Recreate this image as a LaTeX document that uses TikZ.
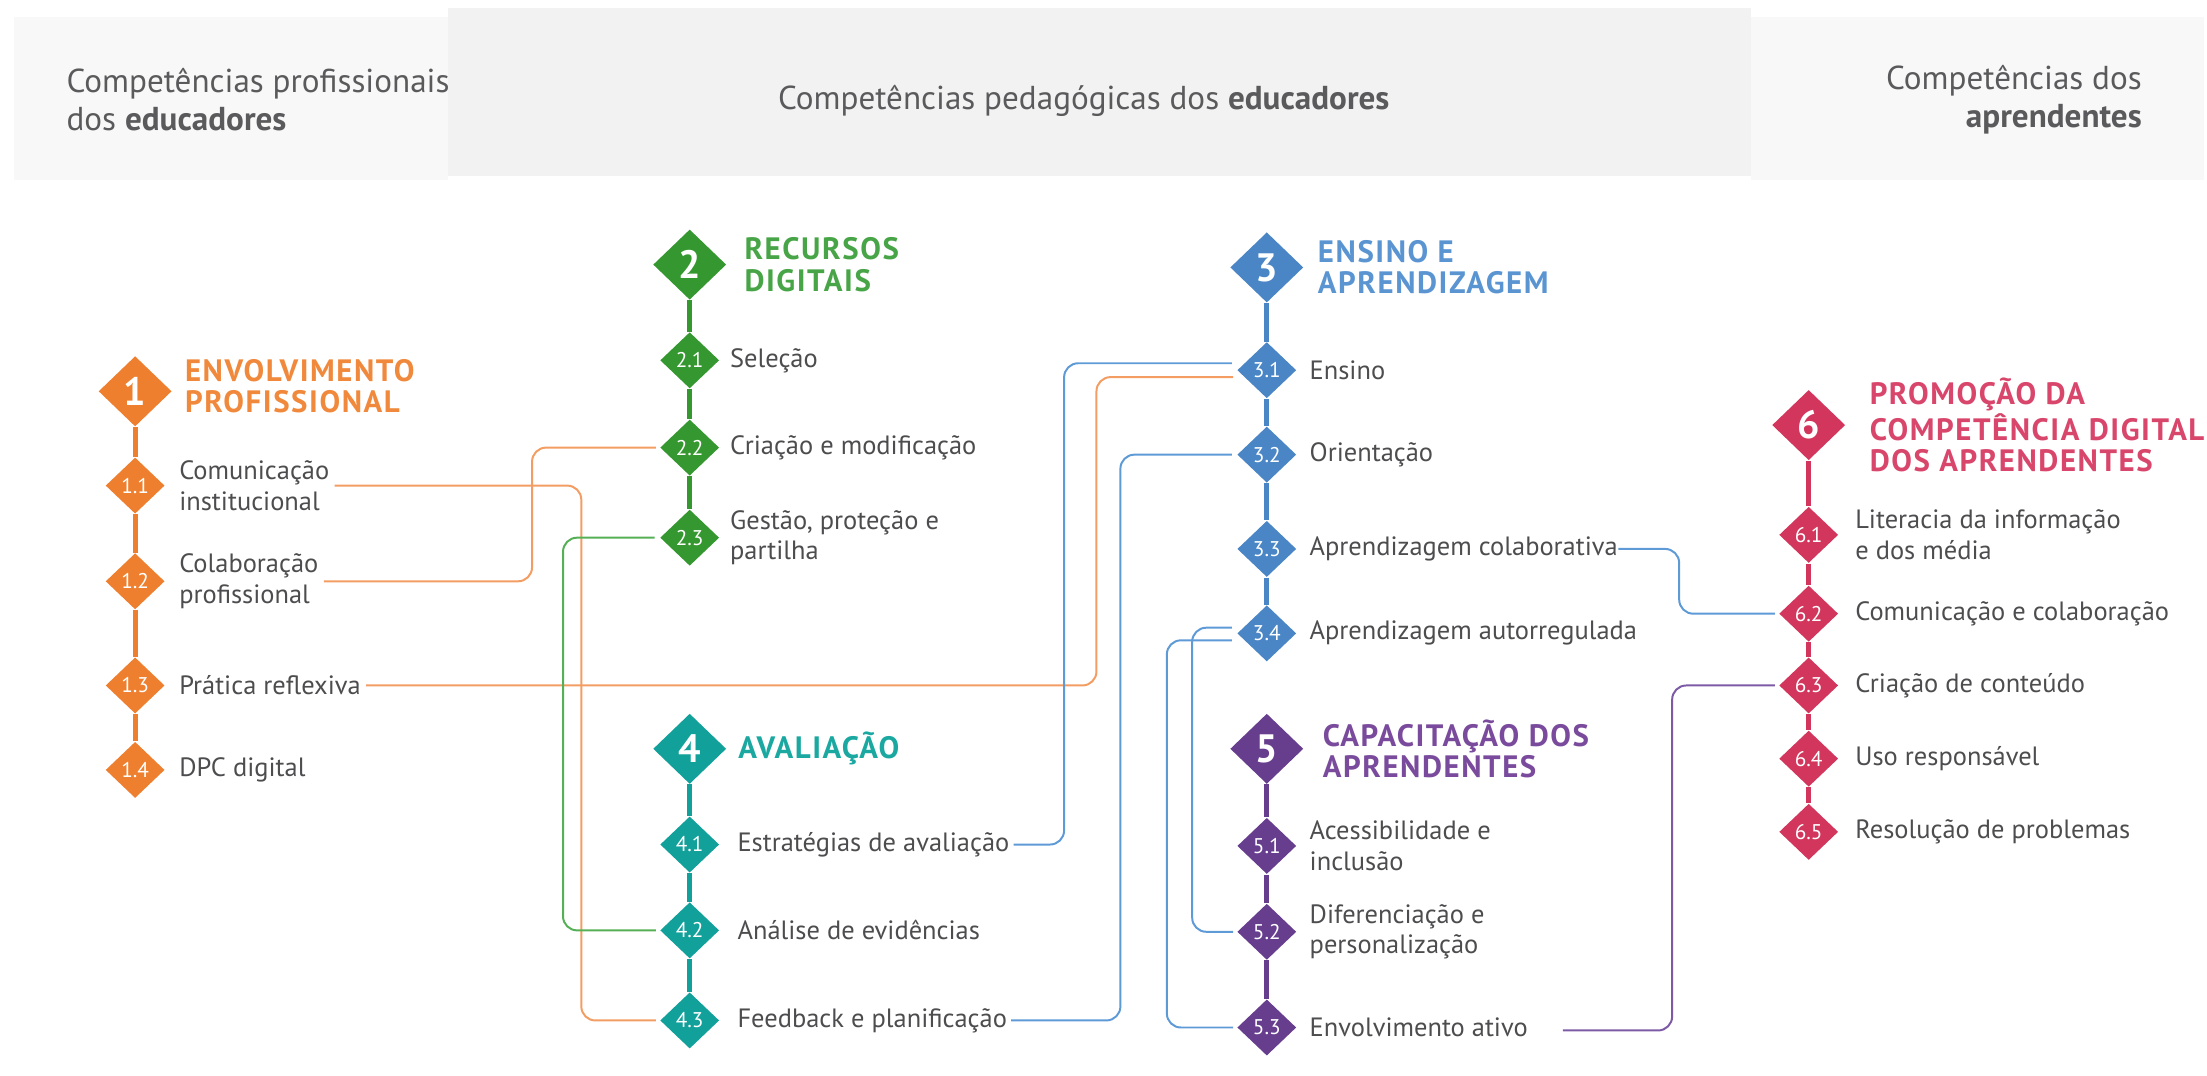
\documentclass[tikz,border=0pt]{standalone}
\usepackage{fontspec}
\setmainfont{PT Sans}
\usetikzlibrary{shapes.geometric, positioning}

\definecolor{txt}{HTML}{4D4D4F}
\definecolor{hdtxt}{HTML}{5A5A5C}
\definecolor{hdside}{HTML}{F8F8F8}
\definecolor{hdmid}{HTML}{F2F2F2}
% area colours: diamond, title, connector
\definecolor{c1}{HTML}{EE7F2F}\definecolor{c1t}{HTML}{F0893C}\definecolor{l1}{HTML}{F39D62}
\definecolor{c2}{HTML}{35972F}\definecolor{c2t}{HTML}{48A547}\definecolor{l2}{HTML}{55B055}
\definecolor{c3}{HTML}{4A86C6}\definecolor{c3t}{HTML}{5A95D2}\definecolor{l3}{HTML}{5E9AD6}
\definecolor{c4}{HTML}{12A19A}\definecolor{c4t}{HTML}{1AA8A1}
\definecolor{c5}{HTML}{673D8E}\definecolor{c5t}{HTML}{7A4B9C}\definecolor{l5}{HTML}{7D5AA6}
\definecolor{c6}{HTML}{D2365C}\definecolor{c6t}{HTML}{D9466B}

\begin{document}
\begin{tikzpicture}[x=0.02cm, y=-0.02cm,
    big/.style={diamond, fill=#1, minimum width=1.04cm, minimum height=1cm, inner sep=0pt, text=white,
        font=\bfseries\fontsize{16}{16}\selectfont},
    small/.style={diamond, fill=#1, minimum width=0.84cm, minimum height=0.8cm, inner sep=0pt, text=white,
        font=\fontsize{8.6}{8.6}\selectfont},
    item/.style={align=left, text=txt, inner sep=0pt, font=\fontsize{10.7}{12.5}\selectfont},
    title/.style={align=left, text=#1, inner sep=0pt,
        font=\bfseries\fontsize{12.5}{12.6}\selectfont\addfontfeatures{LetterSpace=5}},
    hd/.style={align=left, text=hdtxt, inner sep=0pt, font=\fontsize{13.4}{15.4}\selectfont},
    spine/.style={draw=#1, line width=2pt},
    link/.style={draw=#1, line width=0.8pt, rounded corners=0.2cm, shorten >=1.5pt, shorten <=2pt}]
\useasboundingbox (0,0) rectangle (1568,764);

% header
\fill[hdside] (10,12) rectangle (318,128);
\fill[hdmid] (318,6) rectangle (1244,125);
\fill[hdside] (1244,12) rectangle (1566,128);
\node[hd, anchor=west] (hleft) at (47,71) {Competências profissionais\\dos \textbf{educadores}};
\node[hd] (hmid) at (770,72) {Competências pedagógicas dos \textbf{educadores}};
\node[hd, anchor=east, align=right] (hright) at (1522,71) {Competências dos\\\textbf{aprendentes}};

% 1
\node[big=c1] (D1) at (96,278) {1};
\node[title=c1t, right=5pt of D1, yshift=2pt] (T1) {ENVOLVIMENTO\\PROFISSIONAL};
\node[small=c1] (d11) at (96,345) {1.1};
\node[small=c1] (d12) at (96,413) {1.2};
\node[small=c1] (d13) at (96,487) {1.3};
\node[small=c1] (d14) at (96,547) {1.4};
\node[item, right=5.5pt of d11] (t11) {Comunicação\\institucional};
\node[item, right=5.5pt of d12] (t12) {Colaboração\\profissional};
\node[item, right=5.5pt of d13] (t13) {Prática reflexiva};
\node[item, right=5.5pt of d14] (t14) {DPC digital};

% 2
\node[big=c2] (D2) at (490,188) {2};
\node[title=c2t, right=7pt of D2] (T2) {RECURSOS\\DIGITAIS};
\node[small=c2] (d21) at (490,256) {2.1};
\node[small=c2] (d22) at (490,318) {2.2};
\node[small=c2] (d23) at (490,382) {2.3};
\node[item, right=4pt of d21] (t21) {Seleção};
\node[item, right=4pt of d22] (t22) {Criação e modificação};
\node[item, right=4pt of d23] (t23) {Gestão, proteção e\\partilha};

% 3
\node[big=c3] (D3) at (900,190) {3};
\node[title=c3t, right=5.5pt of D3] (T3) {ENSINO E\\APRENDIZAGEM};
\node[small=c3] (d31) at (900,263) {3.1};
\node[small=c3] (d32) at (900,323) {3.2};
\node[small=c3] (d33) at (900,390) {3.3};
\node[small=c3] (d34) at (900,450) {3.4};
\node[item, right=5pt of d31] (t31) {Ensino};
\node[item, right=5pt of d32] (t32) {Orientação};
\node[item, right=5pt of d33] (t33) {Aprendizagem colaborativa};
\node[item, right=5pt of d34] (t34) {Aprendizagem autorregulada};

% 4
\node[big=c4] (D4) at (490,532) {4};
\node[title=c4t, right=4.5pt of D4] (T4) {AVALIAÇÃO};
\node[small=c4] (d41) at (490,600) {4.1};
\node[small=c4] (d42) at (490,661) {4.2};
\node[small=c4] (d43) at (490,725) {4.3};
\node[item, right=7pt of d41] (t41) {Estratégias de avaliação};
\node[item, right=7pt of d42] (t42) {Análise de evidências};
\node[item, right=7pt of d43] (t43) {Feedback e planificação};

% 5
\node[big=c5] (D5) at (900,532) {5};
\node[title=c5t, right=7.5pt of D5] (T5) {CAPACITAÇÃO DOS\\APRENDENTES};
\node[small=c5] (d51) at (900,601) {5.1};
\node[small=c5] (d52) at (900,662) {5.2};
\node[small=c5] (d53) at (900,730) {5.3};
\node[item, right=5pt of d51] (t51) {Acessibilidade e\\inclusão};
\node[item, right=5pt of d52] (t52) {Diferenciação e\\personalização};
\node[item, right=5pt of d53] (t53) {Envolvimento ativo};

% 6
\node[big=c6] (D6) at (1285,302) {6};
\node[title=c6t, right=9.5pt of D6] (T6) {PROMOÇÃO DA\\COMPETÊNCIA DIGITAL\\DOS APRENDENTES};
\node[small=c6] (d61) at (1285,380) {6.1};
\node[small=c6] (d62) at (1285,436) {6.2};
\node[small=c6] (d63) at (1285,487) {6.3};
\node[small=c6] (d64) at (1285,539) {6.4};
\node[small=c6] (d65) at (1285,591) {6.5};
\node[item, right=6.5pt of d61] (t61) {Literacia da informação\\e dos média};
\node[item, right=6.5pt of d62] (t62) {Comunicação e colaboração};
\node[item, right=6.5pt of d63] (t63) {Criação de conteúdo};
\node[item, right=6.5pt of d64] (t64) {Uso responsável};
\node[item, right=6.5pt of d65] (t65) {Resolução de problemas};

% spines
\foreach \a/\b in {D1/d11, d11/d12, d12/d13, d13/d14}
    \draw[spine=c1] (\a.south) -- (\b.north);
\foreach \a/\b in {D2/d21, d21/d22, d22/d23}
    \draw[spine=c2] (\a.south) -- (\b.north);
\foreach \a/\b in {D3/d31, d31/d32, d32/d33, d33/d34}
    \draw[spine=c3] (\a.south) -- (\b.north);
\foreach \a/\b in {D4/d41, d41/d42, d42/d43}
    \draw[spine=c4] (\a.south) -- (\b.north);
\foreach \a/\b in {D5/d51, d51/d52, d52/d53}
    \draw[spine=c5] (\a.south) -- (\b.north);
\foreach \a/\b in {D6/d61, d61/d62, d62/d63, d63/d64, d64/d65}
    \draw[spine=c6] (\a.south) -- (\b.north);

% vertical runs of the links
\coordinate (v11) at (413,0);
\coordinate (v12) at (378,0);
\coordinate (v13) at (779,0);
\coordinate (v23) at (400,0);
\coordinate (v31) at (756,0);
\coordinate (v32) at (796,0);
\coordinate (v33) at (1193,0);
\coordinate (v34a) at (847,0);
\coordinate (v34b) at (829,0);
\coordinate (v53) at (1188,0);
\coordinate (d31a) at ([yshift=2.8pt]d31.west);
\coordinate (d31b) at ([yshift=-2.8pt]d31.west);
\coordinate (d34a) at ([yshift=2.3pt]d34.west);
\coordinate (d34b) at ([yshift=-2.8pt]d34.west);
\coordinate (t53a) at ([yshift=-1.2pt]t53.east);

% links
\draw[link=l1] (t11.east) -| (v11 |- d43) -- (d43.west);
\draw[link=l1] (t12.east) -| (v12 |- d22) -- (d22.west);
\draw[link=l1] (t13.east) -| (v13 |- d31b) -- (d31b);
\draw[link=l2] (d23.west) -| (v23 |- d42) -- (d42.west);
\draw[link=l3] (d31a) -| (v31 |- t41) -- (t41.east);
\draw[link=l3] (d32.west) -| (v32 |- t43) -- (t43.east);
\draw[link=l3, shorten <=0pt] (t33.east) -| (v33 |- d62) -- (d62.west);
\draw[link=l3] (d34a) -| (v34a |- d52) -- (d52.west);
\draw[link=l3] (d34b) -| (v34b |- d53) -- (d53.west);
\draw[link=l5, shorten <=14pt] (t53a) -| (v53 |- d63) -- (d63.west);
\end{tikzpicture}
\end{document}
